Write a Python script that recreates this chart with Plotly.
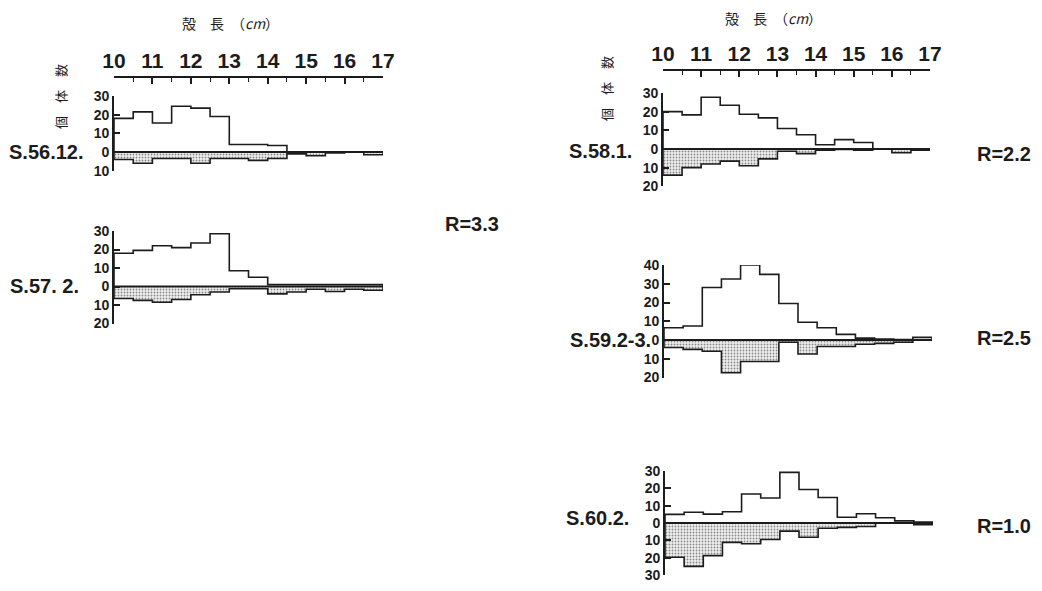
import plotly.graph_objects as go

# ---------------- data ----------------
BIN_LEFT = [10.0, 10.5, 11.0, 11.5, 12.0, 12.5, 13.0, 13.5, 14.0, 14.5, 15.0, 15.5, 16.0, 16.5]
X_MAX = 17.0

# upper outline (counts above zero) and shaded part (counts plotted below zero)
S5612_UP = [18, 21.5, 15.5, 24.5, 23.5, 19, 4, 4, 3.5, 0, 0, 0, 0, 0]
S5612_DN = [4, 6, 3.5, 3.5, 6, 3.5, 3.5, 4.5, 3.5, 1, 2, 0.5, 0, 1.5]

S572_UP = [18, 19.5, 22, 21, 23.5, 28.5, 8.5, 5, 1, 1, 1, 1, 1, 1]
S572_DN = [6.5, 7.5, 8.5, 7, 4.5, 3, 1.2, 1.2, 4, 3, 1.5, 2.7, 1.5, 2]

S581_UP = [20, 18.3, 27.7, 23.4, 18.6, 16.7, 11, 7.6, 2.3, 5, 3.5, 0, 0, 0]
S581_DN = [14, 10, 8, 6.5, 9, 5.3, 1.2, 2.5, 0.7, 0.3, 0.7, 0, 2, 0.7]

S5923_UP = [6.5, 7.5, 28, 32.5, 40, 35, 19.5, 9.5, 6.5, 3, 1, 0.5, 0.3, 1.4]
S5923_DN = [4, 5, 6, 17.5, 11.5, 11.5, 1.2, 7.5, 3.5, 3.5, 2.3, 1.8, 1.2, 0]

S602_UP = [5, 6.2, 5.1, 6.5, 16.7, 14.4, 29.2, 19.3, 14.7, 3.3, 5.3, 3, 1.2, 0.5]
S602_DN = [19.8, 25, 18.8, 11.2, 12, 9.5, 4.7, 8.2, 3, 2.5, 2, 0, 0, 1]

PANEL_NAMES = ["S.56.12.", "S.57. 2.", "S.58.1.", "S.59.2-3.", "S.60.2."]
R_LABELS = ["R=3.3", "R=2.2", "R=2.5", "R=1.0"]
X_TITLE = "殻　長　（<i>cm</i>）"
Y_TITLE = "個　体　数"

# ---------------- layout (pixels of the 1042x591 page) ----------------
PAGE_W, PAGE_H = 1042, 591
BODY_MARGIN = 8  # default browser body margin around the plot div
W, H = PAGE_W - 2 * BODY_MARGIN, PAGE_H - 2 * BODY_MARGIN
INK = "#1c1c1c"
FONT = "Liberation Sans"
CJK = "Noto Sans CJK JP"

PANELS = [
    dict(up=S5612_UP, dn=S5612_DN, x0=114, x1=383, top_val=30, top_px=96, zero_px=152,
         yr=(-10, 30), topaxis=77, lab_x=86, lab_y=152),
    dict(up=S572_UP, dn=S572_DN, x0=114, x1=383, top_val=30, top_px=231, zero_px=286.5,
         yr=(-20, 30), topaxis=None, lab_x=81, lab_y=286),
    dict(up=S581_UP, dn=S581_DN, x0=663, x1=930, top_val=30, top_px=93, zero_px=149,
         yr=(-20, 30), topaxis=70, lab_x=634, lab_y=151),
    dict(up=S5923_UP, dn=S5923_DN, x0=664, x1=932, top_val=40, top_px=265, zero_px=340,
         yr=(-20, 40), topaxis=None, lab_x=653, lab_y=340),
    dict(up=S602_UP, dn=S602_DN, x0=665, x1=933, top_val=30, top_px=471, zero_px=523,
         yr=(-30, 30), topaxis=None, lab_x=631, lab_y=518),
]


def px2x(px):
    return (px - BODY_MARGIN) / W


def px2y(py):
    return 1 - (py - BODY_MARGIN) / H


fig = go.Figure()
layout_axes = {}

for i, p in enumerate(PANELS, start=1):
    xa = "x" if i == 1 else f"x{i}"
    ya = "y" if i == 1 else f"y{i}"
    xs = [BIN_LEFT[0]] + BIN_LEFT + [X_MAX, X_MAX]
    ys_up = [0] + list(p["up"]) + [p["up"][-1], 0]
    dn = [-v for v in p["dn"]]
    ys_dn = [0] + dn + [dn[-1], 0]

    fig.add_trace(go.Scatter(
        x=xs, y=ys_dn, mode="lines", line=dict(shape="hv", color=INK, width=1.6),
        fill="tozeroy", fillcolor="#ececec",
        fillpattern=dict(shape=".", fgcolor="#8a8a8a", bgcolor="#f0f0f0", size=3, solidity=0.3),
        xaxis=xa, yaxis=ya, showlegend=False, hoverinfo="skip"))
    fig.add_trace(go.Scatter(
        x=xs, y=ys_up, mode="lines", line=dict(shape="hv", color=INK, width=1.6),
        xaxis=xa, yaxis=ya, showlegend=False, hoverinfo="skip"))
    fig.add_trace(go.Scatter(
        x=[BIN_LEFT[0], X_MAX], y=[0, 0], mode="lines", line=dict(color=INK, width=2),
        xaxis=xa, yaxis=ya, showlegend=False, hoverinfo="skip"))

    s = (p["zero_px"] - p["top_px"]) / p["top_val"]
    top_pix = p["zero_px"] - s * p["yr"][1]
    bot_pix = p["zero_px"] - s * p["yr"][0]

    xkey = "xaxis" if i == 1 else f"xaxis{i}"
    ykey = "yaxis" if i == 1 else f"yaxis{i}"

    xcfg = dict(domain=[px2x(p["x0"]), px2x(p["x1"])], range=[BIN_LEFT[0], X_MAX],
                showgrid=False, zeroline=False, fixedrange=True, automargin=False)
    if p["topaxis"] is not None:
        xcfg.update(side="top", anchor="free", position=px2y(p["topaxis"]),
                    showline=True, linecolor=INK, linewidth=1.6,
                    ticks="inside", ticklen=6, tickwidth=1.6, tickcolor=INK,
                    tickmode="linear", tick0=10, dtick=1,
                    tickfont=dict(family=FONT, size=21, color=INK, weight="bold"),
                    minor=dict(ticks="inside", ticklen=4, tickwidth=1.3, tickcolor=INK,
                               dtick=0.5, tick0=10, showgrid=False))
    else:
        xcfg.update(visible=False, anchor=ya)
    layout_axes[xkey] = xcfg

    tv = list(range(p["yr"][1], p["yr"][0] - 1, -10))
    layout_axes[ykey] = dict(
        domain=[max(0.0, px2y(bot_pix)), px2y(top_pix)], range=list(p["yr"]), anchor=xa,
        tickmode="array", tickvals=tv, ticktext=[str(abs(v)) for v in tv],
        showline=True, linecolor=INK, linewidth=1.6, ticks="inside", ticklen=6,
        tickwidth=1.6, tickcolor=INK, showgrid=False, zeroline=False, fixedrange=True,
        automargin=False,
        tickfont=dict(family=FONT, size=14, color=INK, weight="bold"))

fig.update_layout(**layout_axes)

ann = []
for p, name in zip(PANELS, PANEL_NAMES):
    ann.append(dict(text=name, x=px2x(p["lab_x"]), y=px2y(p["lab_y"]), xref="paper", yref="paper",
                    xanchor="right", yanchor="middle", showarrow=False,
                    font=dict(family=FONT, size=20, color=INK, weight="bold")))

R_POS = [(472, 224), (1004, 154), (1004, 338), (1004, 526)]
for t, (rx, ry) in zip(R_LABELS, R_POS):
    ann.append(dict(text=t, x=px2x(rx), y=px2y(ry), xref="paper", yref="paper",
                    xanchor="center", yanchor="middle", showarrow=False,
                    font=dict(family=FONT, size=20, color=INK, weight="bold")))

for tx, ty in [(230, 23), (773, 18)]:
    ann.append(dict(text=X_TITLE, x=px2x(tx), y=px2y(ty), xref="paper", yref="paper",
                    xanchor="center", yanchor="middle", showarrow=False,
                    font=dict(family=CJK, size=14, color=INK)))

for tx, ty in [(60, 97), (607, 89)]:
    ann.append(dict(text=Y_TITLE, x=px2x(tx), y=px2y(ty), xref="paper", yref="paper",
                    xanchor="center", yanchor="middle", showarrow=False, textangle=-90,
                    font=dict(family=CJK, size=13, color=INK)))

fig.update_layout(
    template="none",
    width=W, height=H, margin=dict(l=0, r=0, t=0, b=0, autoexpand=False),
    paper_bgcolor="white", plot_bgcolor="rgba(0,0,0,0)",
    annotations=ann, showlegend=False,
)

fig.write_html("out.html")
